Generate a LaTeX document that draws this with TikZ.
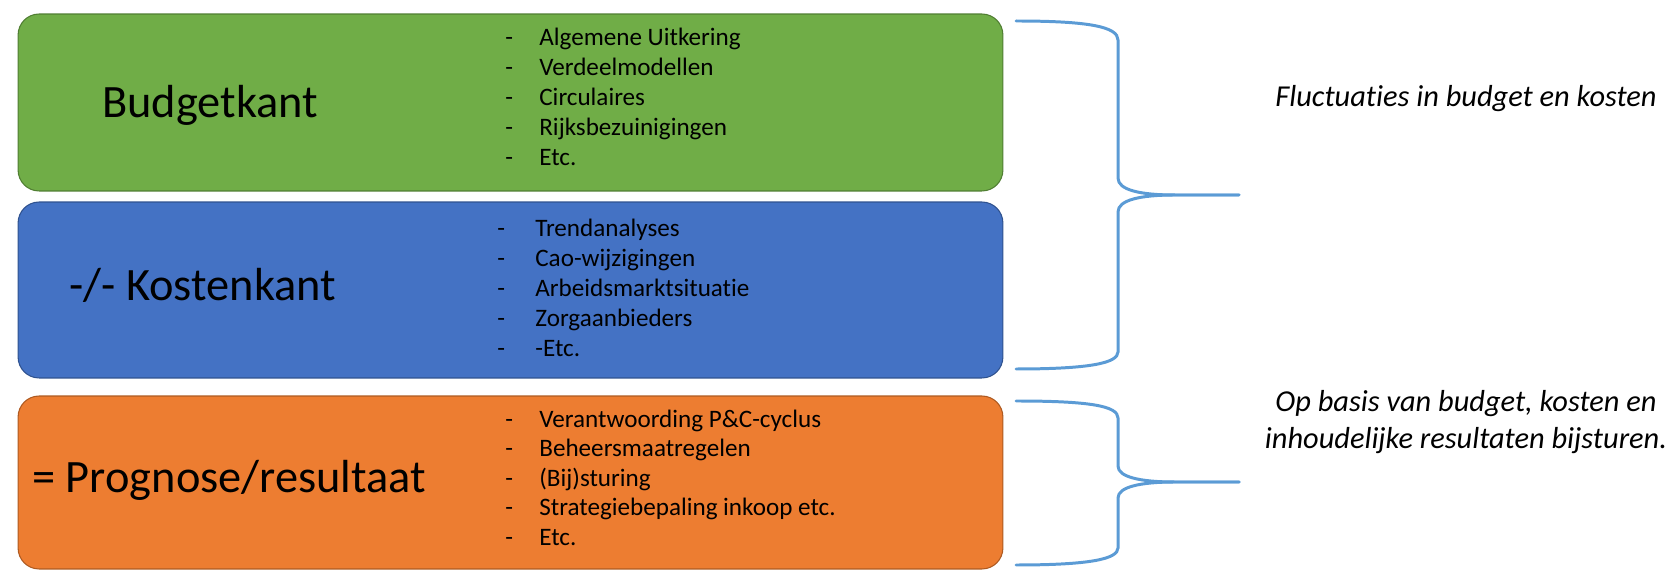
\documentclass[tikz,border=0pt]{standalone}
\usepackage{fontspec}
\setmainfont{Carlito}[Ligatures=NoCommon]
\usepackage{tikz}
\usetikzlibrary{positioning,calc}
\definecolor{groen}{HTML}{70AD47}
\definecolor{groenrand}{HTML}{507E32}
\definecolor{blauw}{HTML}{4472C4}
\definecolor{blauwrand}{HTML}{2F528F}
\definecolor{oranje}{HTML}{ED7D31}
\definecolor{oranjerand}{HTML}{AE5A21}
\definecolor{lichtblauw}{HTML}{5B9BD5}
\tikzset{
  kader/.style={draw, rounded corners=0.42cm, minimum width=19.7cm, inner sep=0pt, line width=0.6pt},
  kop/.style={anchor=west, inner sep=0pt, text height=18pt, text depth=5pt, font=\fontsize{26.4}{31}\selectfont},
  punt/.style={anchor=west, inner sep=0pt, text height=10pt, text depth=3pt, font=\fontsize{14.3}{17}\selectfont},
  accolade/.style={draw=lichtblauw, line width=1.7pt, line cap=round},
  uitleg/.style={align=center, inner sep=0pt, font=\fontsize{17.3}{20.8}\selectfont\itshape}
}

\begin{document}
\begin{tikzpicture}[x=0.02cm, y=-0.02cm]
%Alles in Pixeln des Originals (1668x570)
\useasboundingbox (0,0) rectangle (1668,570);
%Kaders
\node[kader, fill=groen, draw=groenrand, minimum height=3.54cm] (budget) at (510.5,102.5) {};
\node[kader, fill=blauw, draw=blauwrand, minimum height=3.52cm] (kosten) at (510.5,290) {};
\node[kader, fill=oranje, draw=oranjerand, minimum height=3.46cm] (prognose) at (510.5,482.5) {};
\node[kop] (budgetkop) at (102,106) {Budgetkant};
\node[kop] (kostenkop) at (69,289) {-/- Kostenkant};
\node[kop] (prognosekop) at (32,481) {= Prognose/resultaat};
%Opsommingen
\foreach \tekst [count=\i] in {Algemene Uitkering, Verdeelmodellen, Circulaires, Rijksbezuinigingen, Etc.}{
  \node[punt] (bstreep\i) at (505,{39+(\i-1)*30}) {-};
  \node[punt] (bpunt\i) at (539,{39+(\i-1)*30}) {\tekst};
}
\foreach \tekst [count=\i] in {Trendanalyses, Cao-wijzigingen, Arbeidsmarktsituatie, Zorgaanbieders, -Etc.}{
  \node[punt] (kstreep\i) at (497,{230+(\i-1)*30.2}) {-};
  \node[punt] (kpunt\i) at (535,{230+(\i-1)*30.2}) {\tekst};
}
\foreach \tekst [count=\i] in {Verantwoording P\&C-cyclus, Beheersmaatregelen, {(Bij)sturing}, Strategiebepaling inkoop etc., Etc.}{
  \node[punt] (pstreep\i) at (505,{421+(\i-1)*29.5}) {-};
  \node[punt] (ppunt\i) at (539,{421+(\i-1)*29.5}) {\tekst};
}
%Accolades
\coordinate (a1boven) at (1016,21);
\coordinate (a1punt) at (1239,195);
\coordinate (a1onder) at (1016,369);
\draw[accolade] (a1boven) .. controls (1090,21) and (1118,27) .. (1118,40) -- (1118,178)
  .. controls (1118,190) and (1140,195) .. (1175,195) -- (a1punt);
\draw[accolade] (a1punt) -- (1175,195) .. controls (1140,195) and (1118,200) .. (1118,212)
  -- (1118,352) .. controls (1118,363) and (1090,369) .. (a1onder);
\coordinate (a2boven) at (1016,401);
\coordinate (a2punt) at (1239,482);
\coordinate (a2onder) at (1016,565);
\draw[accolade] (a2boven) .. controls (1090,401) and (1118,406) .. (1118,418) -- (1118,466)
  .. controls (1118,477) and (1140,482) .. (1175,482) -- (a2punt);
\draw[accolade] (a2punt) -- (1175,482) .. controls (1140,482) and (1118,487) .. (1118,498)
  -- (1118,548) .. controls (1118,559) and (1090,565) .. (a2onder);
%Toelichting
\node[uitleg] (fluctuaties) at (1466,99) {Fluctuaties in budget en kosten};
\node[uitleg] (bijsturen) at (1466,422) {Op basis van budget, kosten en\\inhoudelijke resultaten bijsturen.};
\end{tikzpicture}
\end{document}
